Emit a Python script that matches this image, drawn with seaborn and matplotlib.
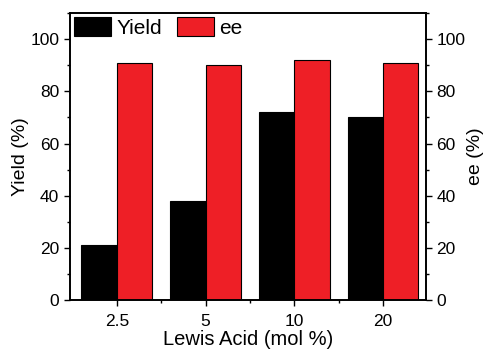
import pandas as pd
import matplotlib.pyplot as plt
import seaborn as sns
from matplotlib.ticker import MultipleLocator, FixedLocator

# data
loadings = ["2.5", "5", "10", "20"]
yield_pct = [21, 38, 72, 70]
ee_pct = [91, 90, 92, 91]

df = pd.DataFrame({
    "Loading": loadings * 2,
    "Value": yield_pct + ee_pct,
    "Series": ["Yield"] * len(loadings) + ["ee"] * len(loadings),
})

sns.set_theme(style="ticks")
plt.rcParams['font.family'] = ['Liberation Sans', 'DejaVu Sans']
plt.rcParams['text.color'] = 'black'
plt.rcParams['axes.labelcolor'] = 'black'
plt.rcParams['xtick.color'] = 'black'
plt.rcParams['ytick.color'] = 'black'

fig, ax = plt.subplots(figsize=(4.88, 3.53), dpi=100)
fig.subplots_adjust(left=0.143, right=0.873, top=0.963, bottom=0.15)

sns.barplot(data=df, x="Loading", y="Value", hue="Series", order=loadings,
            palette={"Yield": "#000000", "ee": "#EE1F26"}, width=0.8,
            edgecolor="black", linewidth=0.8, saturation=1, ax=ax)

ax.set_xlim(-0.53, 3.485)
ax.set_ylim(0, 110)
ax.yaxis.set_major_locator(MultipleLocator(20))
ax.yaxis.set_minor_locator(MultipleLocator(10))
ax.xaxis.set_minor_locator(FixedLocator([0.5, 1.5, 2.5]))
ax.set_xlabel("Lewis Acid (mol %)", fontsize=14.5, labelpad=1)
ax.set_ylabel("Yield (%)", fontsize=14, labelpad=1)
ax.tick_params(axis="both", which="major", labelsize=12.5, length=4, width=1, direction="out")
ax.tick_params(axis="x", which="major", pad=6)
ax.tick_params(axis="both", which="minor", length=2.5, width=1, direction="out")
for s in ax.spines.values():
    s.set_linewidth(1.2)
    s.set_color("black")

ax2 = ax.twinx()
ax2.set_ylim(0, 110)
ax2.yaxis.set_major_locator(MultipleLocator(20))
ax2.yaxis.set_minor_locator(MultipleLocator(10))
ax2.set_ylabel("ee (%)", fontsize=14, labelpad=1)
ax2.tick_params(axis="y", which="major", labelsize=12.5, length=4, width=1, direction="out")
ax2.tick_params(axis="y", which="minor", length=2.5, width=1, direction="out")
for s in ax2.spines.values():
    s.set_linewidth(1.2)
    s.set_color("black")

handles, labels = ax.get_legend_handles_labels()
ax.legend(handles, labels, loc="upper left", ncol=2, frameon=False, fontsize=15,
          handlelength=1.8, handleheight=1.0, handletextpad=0.25, columnspacing=0.7,
          borderaxespad=0.2, borderpad=0.0)

plt.savefig("out.png", dpi=100)
plt.close()
